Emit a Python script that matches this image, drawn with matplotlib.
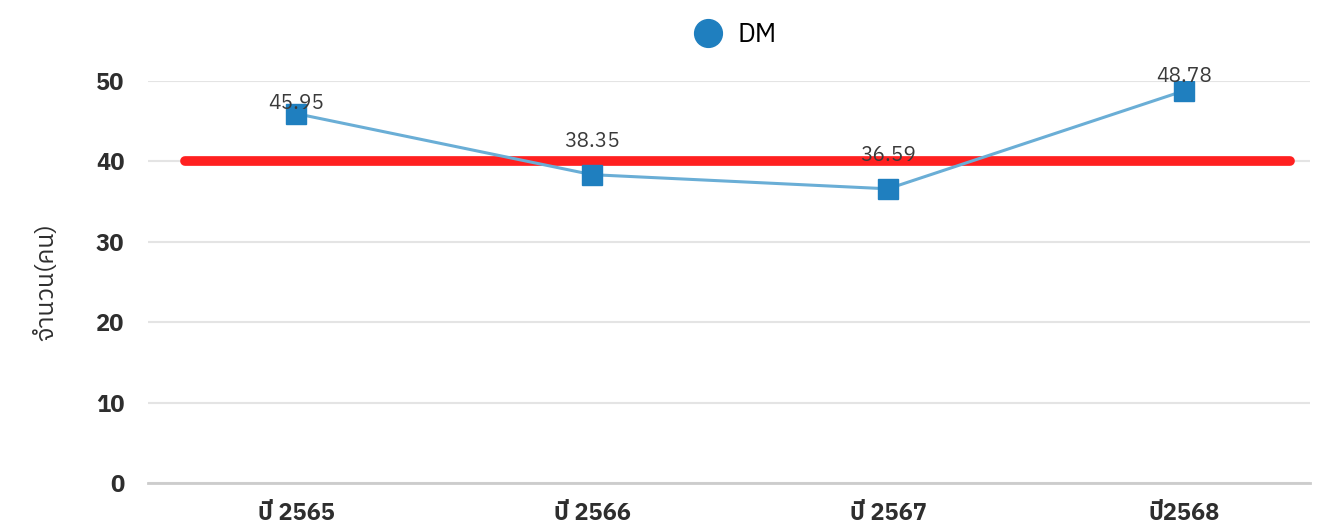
import matplotlib
matplotlib.use("Agg")
import matplotlib.pyplot as plt
from matplotlib import font_manager
from matplotlib.ft2font import FT2Font

years = ["ปี 2565", "ปี 2566", "ปี 2567", "ปี2568"]
dm = [45.95, 38.35, 36.59, 48.78]
target = 40
label_offsets = [10, 33, 33, 14]  # px above marker, as in the original

# find an installed font that has Thai glyphs, prefer a loopless sans
thai_fonts = []
for f in font_manager.fontManager.ttflist:
    try:
        if 0x0E08 in FT2Font(f.fname).get_charmap():
            thai_fonts.append(f.name)
    except Exception:
        pass
thai_fonts = list(dict.fromkeys(thai_fonts))
thai_fonts.sort(key=lambda n: (("Looped" in n) or ("Serif" in n), "Sans" not in n))
families = thai_fonts + ["Open Sans", "DejaVu Sans"]
plt.rcParams["font.family"] = families

fig = plt.figure(figsize=(13.23, 5.32), dpi=100)
ax = fig.add_axes([148 / 1323, 1 - 483 / 532, (1310 - 148) / 1323, (483 - 81) / 532])
x = list(range(len(years)))

ax.plot(x, dm, color="#6aaed6", lw=2.2, zorder=3)
ax.plot(x, dm, ls="none", marker="s", ms=14, color="#1f7fbf", zorder=4)
ax.hlines(target, -0.375, 3.36, color="#ff2020", lw=7, zorder=2, capstyle="round")

for xi, v, off in zip(x, dm, label_offsets):
    ax.annotate(f"{v:.2f}", (xi, v), xytext=(0, off), textcoords="offset pixels",
                ha="center", va="center", fontsize=15, color="#3a3a3a", zorder=5)

ax.set_xlim(-0.5, 3.426)
ax.set_ylim(0, 50)
ax.set_yticks([0, 10, 20, 30, 40, 50])
ax.set_xticks(x)
ax.set_xticklabels(years)
ax.yaxis.grid(True, color="#e4e4e4", lw=1.5)
ax.set_axisbelow(True)
for s in ["top", "right", "left"]:
    ax.spines[s].set_visible(False)
ax.spines["bottom"].set_color("#cccccc")
ax.spines["bottom"].set_linewidth(2)
ax.tick_params(axis="both", length=0, labelsize=17, labelcolor="#2e2e2e")
ax.tick_params(axis="y", pad=17)
ax.tick_params(axis="x", pad=14)
for t in ax.get_xticklabels() + ax.get_yticklabels():
    t.set_fontweight("bold")
ax.set_ylabel("จำนวน(คน)", fontsize=18, color="#2e2e2e", labelpad=27)

ax.plot([], [], ls="none", marker="o", ms=20, color="#1f7fbf", label="DM")
ax.legend(loc="lower center", bbox_to_anchor=(0.5, 1.058), frameon=False, fontsize=19,
          handletextpad=0.1, borderaxespad=0)

fig.savefig("out.png", dpi=100)
